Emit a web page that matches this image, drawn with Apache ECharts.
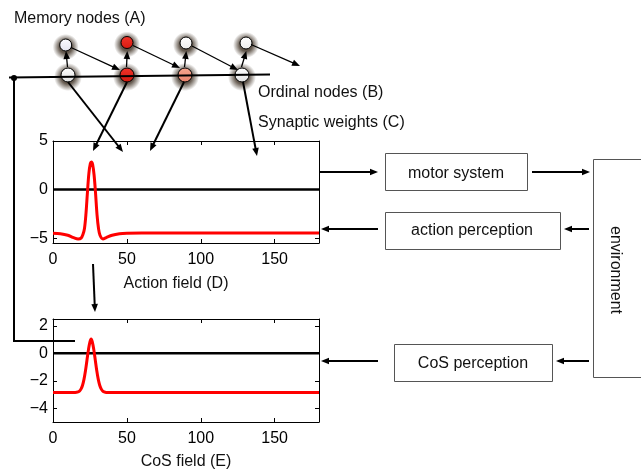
<!DOCTYPE html>
<html>
<head>
<meta charset="utf-8">
<script src="https://cdn.jsdelivr.net/npm/echarts@6/dist/echarts.min.js"></script>
<style>
html, body { margin: 0; padding: 0; background: #fff; }
#main { width: 641px; height: 470px; }
</style>
</head>
<body>
<div id="main"></div>
<script>
// field positions and activation values
var actionX = [0, 5, 10, 14, 17, 19, 20.3, 21.3, 22.3, 23.3, 24.3, 25.3, 26, 26.8, 27.8, 28.8, 29.8, 30.8, 31.8, 33.8, 36, 40, 45, 50, 60, 180];
var actionU = [-4.5, -4.55, -4.7, -4.95, -5.08, -5.0, -4.6, -4.0, -2.5, -0.3, 1.7, 2.7, 2.85, 2.6, 1.5, -0.4, -2.6, -4.0, -4.7, -5.08, -4.95, -4.7, -4.55, -4.5, -4.48, -4.48];
var cosX = [0, 15, 17, 18, 19, 20, 21, 22, 23, 24, 25, 25.8, 26.6, 27.6, 28.6, 29.6, 30.6, 31.6, 32.6, 33.6, 34.6, 36, 180];
var cosU = [-2.85, -2.85, -2.81, -2.74, -2.59, -2.32, -1.88, -1.25, -0.48, 0.27, 0.84, 1.05, 0.84, 0.27, -0.48, -1.25, -1.88, -2.32, -2.59, -2.74, -2.81, -2.85, -2.85];
var fieldX = [0, 180];
var threshold = [0, 0];
var xTicks = [0, 50, 100, 150];
var actionTicks = [-5, 0, 5];
var cosTicks = [-4, -2, 0, 2];

var FONT = 'Liberation Sans, Arial, Helvetica, sans-serif';

function pairs(xs, ys) {
	var out = [];
	for (var i = 0; i < xs.length; i++) {
		out.push([xs[i], ys[i]]);
	}
	return out;
}

function minus(v) {
	return String(v).replace('-', '\u2212');
}

function xAx(gi, pos, ticks) {
	return {
		type: 'value', gridIndex: gi, position: pos, min: 0, max: 180,
		axisLine: { show: true, onZero: false, lineStyle: { color: '#000', width: 1 } },
		axisTick: { show: true, inside: true, length: 4, customValues: ticks, lineStyle: { color: '#000' } },
		axisLabel: { show: pos === 'bottom', customValues: ticks, margin: 9, fontSize: 16, color: '#000', fontFamily: FONT },
		splitLine: { show: false }
	};
}

function yAx(gi, pos, mn, mx, ticks) {
	return {
		type: 'value', gridIndex: gi, position: pos, min: mn, max: mx,
		axisLine: { show: true, onZero: false, lineStyle: { color: '#000', width: 1 } },
		axisTick: { show: true, inside: true, length: 4, customValues: ticks, lineStyle: { color: '#000' } },
		axisLabel: { show: pos === 'left', customValues: ticks, margin: 5, fontSize: 16, color: '#000', fontFamily: FONT, formatter: minus },
		splitLine: { show: false }
	};
}

function arrow(x1, y1, x2, y2, w) {
	var a = Math.atan2(y2 - y1, x2 - x1), L = 8, W = 3.3;
	var bx = x2 - L * Math.cos(a), by = y2 - L * Math.sin(a);
	return [{
		type: 'line', z: 10,
		shape: { x1: x1, y1: y1, x2: bx + 1 * Math.cos(a), y2: by + 1 * Math.sin(a) },
		style: { stroke: '#000', lineWidth: w || 1.5 }
	}, {
		type: 'polygon', z: 10,
		shape: { points: [[x2, y2], [bx + W * Math.sin(a), by - W * Math.cos(a)], [bx - W * Math.sin(a), by + W * Math.cos(a)]] },
		style: { fill: '#000' }
	}];
}

function label(txt, x, y, align) {
	return {
		type: 'text', z: 10, x: x, y: y,
		style: { text: txt, fontSize: 16, fontFamily: FONT, fill: '#111', textAlign: align || 'left', textVerticalAlign: 'middle' }
	};
}

function box(x, y, w, h) {
	return {
		type: 'rect', z: 5,
		shape: { x: x, y: y, width: w, height: h },
		style: { fill: '#fff', stroke: '#555', lineWidth: 1 }
	};
}

// node with a dark blurred halo, as in the drawing
function node(x, y, r, c1, c2) {
	return [{
		type: 'circle', z: 4,
		shape: { cx: x, cy: y + 2, r: r + 7 },
		style: {
			fill: new echarts.graphic.RadialGradient(0.5, 0.5, 0.5, [
				{ offset: 0, color: 'rgba(40,25,10,0.9)' },
				{ offset: 0.5, color: 'rgba(40,25,10,0.7)' },
				{ offset: 1, color: 'rgba(40,25,10,0)' }
			])
		}
	}, {
		type: 'circle', z: 6,
		shape: { cx: x, cy: y, r: r },
		style: {
			fill: new echarts.graphic.LinearGradient(0, 0, 0, 1, [{ offset: 0, color: c1 }, { offset: 1, color: c2 }]),
			stroke: '#000', lineWidth: 1
		}
	}];
}

var g = [];
// memory nodes (A) and ordinal nodes (B)
var memX = [65.7, 127, 186, 246], memY = [45, 42.5, 43, 43];
var memC = [['#fbfbff', '#e4e4f0'], ['#f0342a', '#d81a10'], ['#ffffff', '#ececec'], ['#ffffff', '#ececec']];
var ordX = [68, 127, 185, 242];
var ordC = [['#ffffff', '#e0e0e0'], ['#f0342a', '#d0180e'], ['#f6a890', '#e8806a'], ['#ffffff', '#e0e0e0']];
for (var i = 0; i < 4; i++) {
	g = g.concat(node(memX[i], memY[i], 6, memC[i][0], memC[i][1]));
	g = g.concat(node(ordX[i], 75, 7, ordC[i][0], ordC[i][1]));
	g = g.concat(arrow(ordX[i] - 0.5, 67, memX[i] + 0.3, 51, 1.3));
}
g.push({ type: 'line', z: 8, shape: { x1: 9, y1: 77.5, x2: 270, y2: 74.5 }, style: { stroke: '#000', lineWidth: 2 } });
g.push({ type: 'circle', z: 9, shape: { cx: 14, cy: 78, r: 3 }, style: { fill: '#000' } });
g.push({ type: 'polyline', z: 8, shape: { points: [[14, 78], [14, 341], [75, 341]] }, style: { stroke: '#000', lineWidth: 2 } });
// sequence arrows
g = g.concat(arrow(71, 47.5, 120, 70, 1.3));
g = g.concat(arrow(133, 45.5, 180, 68, 1.3));
g = g.concat(arrow(192, 46, 238, 70, 1.3));
g = g.concat(arrow(251, 44.5, 300, 66, 1.3));
// synaptic weights (C)
g = g.concat(arrow(68, 82, 123, 152, 2));
g = g.concat(arrow(127, 82, 93, 151, 2));
g = g.concat(arrow(184, 82, 150, 151, 2));
g = g.concat(arrow(243, 82, 257, 156, 2));
// action field -> CoS field
g = g.concat(arrow(93, 264, 95, 312, 2));
// sensorimotor loop
g = g.concat(arrow(320, 172, 378, 172, 2));
g = g.concat(arrow(532, 172, 590, 172, 2));
g = g.concat(arrow(589, 229, 564, 229, 2));
g = g.concat(arrow(378, 229, 321, 229, 2));
g = g.concat(arrow(589, 361, 556, 361, 2));
g = g.concat(arrow(378, 361, 321, 361, 2));
g.push(box(385.5, 153.5, 142, 37));
g.push(box(385.5, 212.5, 175, 37));
g.push(box(394.5, 344.5, 158, 37));
g.push(box(593.5, 159.5, 60, 218));
g.push(label('motor system', 456, 174, 'center'));
g.push(label('action perception', 472, 231, 'center'));
g.push(label('CoS perception', 473, 364, 'center'));
g.push({
	type: 'text', z: 10, x: 615, y: 270, rotation: -Math.PI / 2,
	style: { text: 'environment', fontSize: 16, fontFamily: FONT, fill: '#111', textAlign: 'center', textVerticalAlign: 'middle' }
});
g.push(label('Memory nodes (A)', 14, 19));
g.push(label('Ordinal nodes (B)', 258, 93));
g.push(label('Synaptic weights (C)', 258, 123));
g.push(label('Action field (D)', 176, 284, 'center'));
g.push(label('CoS field (E)', 186, 462, 'center'));

var myChart = echarts.init(document.getElementById('main'), null, { renderer: 'canvas' });
var option = {
	animation: false,
	backgroundColor: '#fff',
	grid: [
		{ left: 53, top: 141, width: 266, height: 102 },
		{ left: 53, top: 319, width: 266, height: 103 }
	],
	xAxis: [xAx(0, 'bottom', xTicks), xAx(0, 'top', xTicks), xAx(1, 'bottom', xTicks), xAx(1, 'top', xTicks)],
	yAxis: [yAx(0, 'left', -5.5, 5, actionTicks), yAx(0, 'right', -5.5, 5, actionTicks), yAx(1, 'left', -5, 2.5, cosTicks), yAx(1, 'right', -5, 2.5, cosTicks)],
	series: [{
		name: 'threshold D', type: 'line', xAxisIndex: 0, yAxisIndex: 0, symbol: 'none',
		data: pairs(fieldX, threshold), lineStyle: { color: '#000', width: 2.5 }
	}, {
		name: 'action field', type: 'line', xAxisIndex: 0, yAxisIndex: 0, symbol: 'none', smooth: 0.35,
		data: pairs(actionX, actionU), lineStyle: { color: '#f00', width: 3 }
	}, {
		name: 'threshold E', type: 'line', xAxisIndex: 2, yAxisIndex: 2, symbol: 'none',
		data: pairs(fieldX, threshold), lineStyle: { color: '#000', width: 2.5 }
	}, {
		name: 'CoS field', type: 'line', xAxisIndex: 2, yAxisIndex: 2, symbol: 'none', smooth: 0.35,
		data: pairs(cosX, cosU), lineStyle: { color: '#f00', width: 3 }
	}],
	graphic: g
};
myChart.setOption(option);
</script>
</body>
</html>
